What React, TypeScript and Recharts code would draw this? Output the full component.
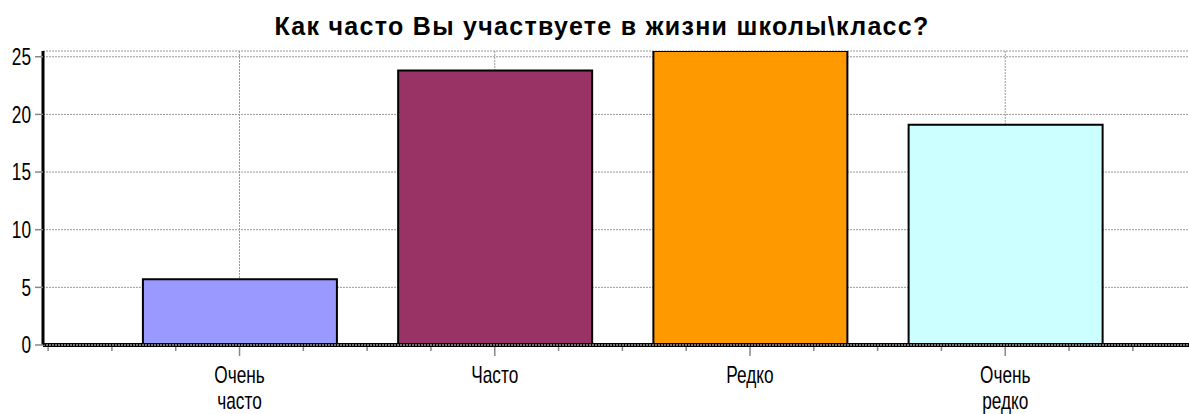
import { BarChart, Bar, XAxis, YAxis, CartesianGrid, ReferenceLine, Cell } from "recharts";

// Как часто Вы участвуете в жизни школы\класс?
const title = "Как часто Вы участвуете в жизни школы\\класс?";
const categories = ["Очень\nчасто", "Часто", "Редко", "Очень\nредко"];
const positions = [1, 2, 3, 4];
const values = [5.7, 23.8, 25.5, 19.1];
const colors = ["#9999FF", "#993366", "#FF9900", "#CCFFFF"];
const yTicks = [0, 5, 10, 15, 20, 25];
const xTicks = [0.25, 0.5, 0.75, 1, 1.25, 1.5, 1.75, 2, 2.25, 2.5, 2.75, 3, 3.25, 3.5, 3.75, 4, 4.25, 4.5];

const data = positions.map((pos, i) => ({ pos, name: categories[i], value: values[i] }));

const FONT = "'Liberation Sans', Arial, sans-serif";

function XTick({ x, y, payload }: any) {
  const idx = positions.indexOf(payload.value);
  const major = idx >= 0;
  return (
    <g>
      <line x1={x} x2={x} y1={y + 2} y2={y + (major ? 11 : 6)} stroke="#888" strokeWidth={1.5} />
      {major &&
        categories[idx].split("\n").map((line, i) => (
          <text
            key={i}
            transform={`translate(${x},${y + 38 + i * 26}) scale(0.75,1)`}
            textAnchor="middle"
            fontSize={23}
            fontFamily={FONT}
            fill="#000"
          >
            {line}
          </text>
        ))}
    </g>
  );
}

function YTick({ x, y, payload }: any) {
  return (
    <text
      transform={`translate(${x},${y}) scale(0.75,1)`}
      textAnchor="end"
      dy="0.36em"
      fontSize={23}
      fontFamily={FONT}
      fill="#000"
    >
      {payload.value}
    </text>
  );
}

// вертикальная сетка только по категориям
const gridX = ({ xAxis }: any) =>
  positions.map((p) => (typeof xAxis.scale === "function" ? xAxis.scale(p) : xAxis.scale.map(p)));

export default function App() {
  return (
    <div style={{ position: "absolute", left: 0, top: 0, width: 1189, height: 414, background: "#fff", fontFamily: FONT }}>
      <div
        style={{
          position: "absolute",
          left: 0,
          top: 14,
          width: 1204,
          textAlign: "center",
          fontSize: 25,
          lineHeight: "25px",
          fontWeight: "bold",
          letterSpacing: 1.3,
          color: "#000",
        }}
      >
        {title}
      </div>
      <BarChart width={1189} height={414} data={data} margin={{ top: 51, right: 0, bottom: 0, left: 0 }}>
        <CartesianGrid stroke="#999" strokeDasharray="2 1" verticalCoordinatesGenerator={gridX} />
        <XAxis
          dataKey="pos"
          type="number"
          domain={[0.23, 4.72]}
          ticks={xTicks}
          interval={0}
          height={69}
          axisLine={false}
          tickLine={false}
          tickSize={0}
          tickMargin={0}
          tick={<XTick />}
          allowDataOverflow
        />
        <YAxis
          domain={[0, 25.5]}
          ticks={yTicks}
          width={43}
          axisLine={{ stroke: "#000", strokeWidth: 3 }}
          tickLine={{ stroke: "#888", strokeWidth: 1.5 }}
          tickSize={8}
          tickMargin={4}
          tick={<YTick />}
          allowDataOverflow
        />
        <Bar dataKey="value" barSize={194} stroke="#000" strokeWidth={2} isAnimationActive={false}>
          {data.map((d, i) => (
            <Cell key={d.name} fill={colors[i]} />
          ))}
        </Bar>
        <ReferenceLine y={0} stroke="#000" strokeWidth={4} />
        <ReferenceLine y={0} stroke="#999" strokeWidth={1.3} strokeDasharray="2 1" />
      </BarChart>
    </div>
  );
}
